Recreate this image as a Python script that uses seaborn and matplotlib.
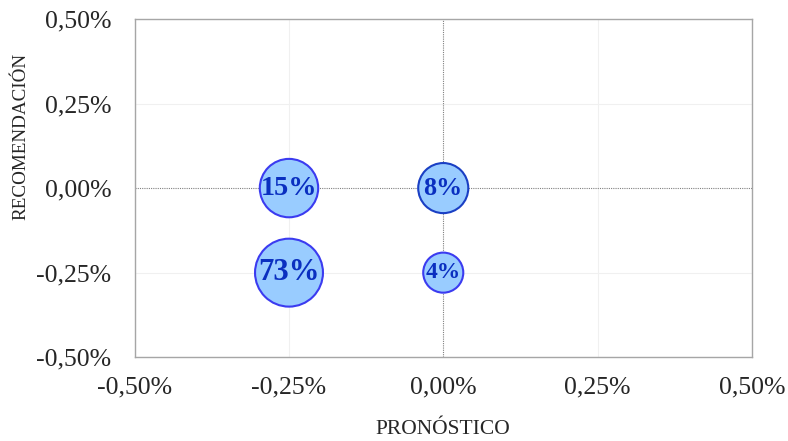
import numpy as np
import pandas as pd
import matplotlib.pyplot as plt
import seaborn as sns

sns.set_style('white')
plt.rcParams['font.family'] = ['Liberation Serif', 'DejaVu Serif']

pronostico = [-0.25, 0.00, -0.25, 0.00]
recomendacion = [0.00, 0.00, -0.25, -0.25]
share = [15, 8, 73, 4]
bubble = [34, 25, 46, 16]
edges = ['#3b3bf0', '#1a3fc4', '#3b3bf0', '#3b3bf0']

ticks = [-0.50, -0.25, 0.00, 0.25, 0.50]
tick_labels = ['-0,50%', '-0,25%', '0,00%', '0,25%', '0,50%']

df = pd.DataFrame({'x': pronostico, 'y': recomendacion,
                   'share': share, 'bubble': bubble})

fig = plt.figure(figsize=(7.88, 4.41), dpi=100)
ax = fig.add_axes([0.171, 0.190, 0.783, 0.767])

k = 52.0
sns.scatterplot(data=df, x='x', y='y', size='bubble',
                sizes=(min(bubble) * k, max(bubble) * k),
                color='#99ccff', edgecolor=edges, linewidth=1.5,
                alpha=1, legend=False, ax=ax, zorder=3)

for _, r in df.iterrows():
    diam = np.sqrt(r['bubble'] * 100)
    ax.text(r['x'], r['y'], f"{int(r['share'])}%", ha='center', va='center',
            fontsize=9.3 + 0.19 * diam, fontweight='bold', color='#0a2fc0',
            zorder=4)

ax.set_xlim(-0.5, 0.5)
ax.set_ylim(-0.5, 0.5)
ax.set_xticks(ticks)
ax.set_yticks(ticks)
ax.set_xticklabels(tick_labels, fontsize=18.5)
ax.set_yticklabels(tick_labels, fontsize=18.5)
ax.tick_params(length=0)
ax.tick_params(axis='y', pad=17)
ax.tick_params(axis='x', pad=14)

for t in ticks:
    if t != 0:
        ax.axvline(t, color='#f0f0f0', lw=0.8, zorder=1)
        ax.axhline(t, color='#f0f0f0', lw=0.8, zorder=1)
ax.axvline(0, color='#808080', lw=0.8, ls=(0, (1, 1)), zorder=2)
ax.axhline(0, color='#808080', lw=0.8, ls=(0, (1, 1)), zorder=2)

for s in ax.spines.values():
    s.set_color('#a6a6a6')
    s.set_linewidth(1)

ax.set_xlabel('PRONÓSTICO', fontsize=15.5)
ax.set_ylabel('RECOMENDACIÓN', fontsize=13.8)
ax.xaxis.set_label_coords(0.5, -0.185)
ax.yaxis.set_label_coords(-0.171, 0.652)

fig.savefig('out.png', dpi=100)
